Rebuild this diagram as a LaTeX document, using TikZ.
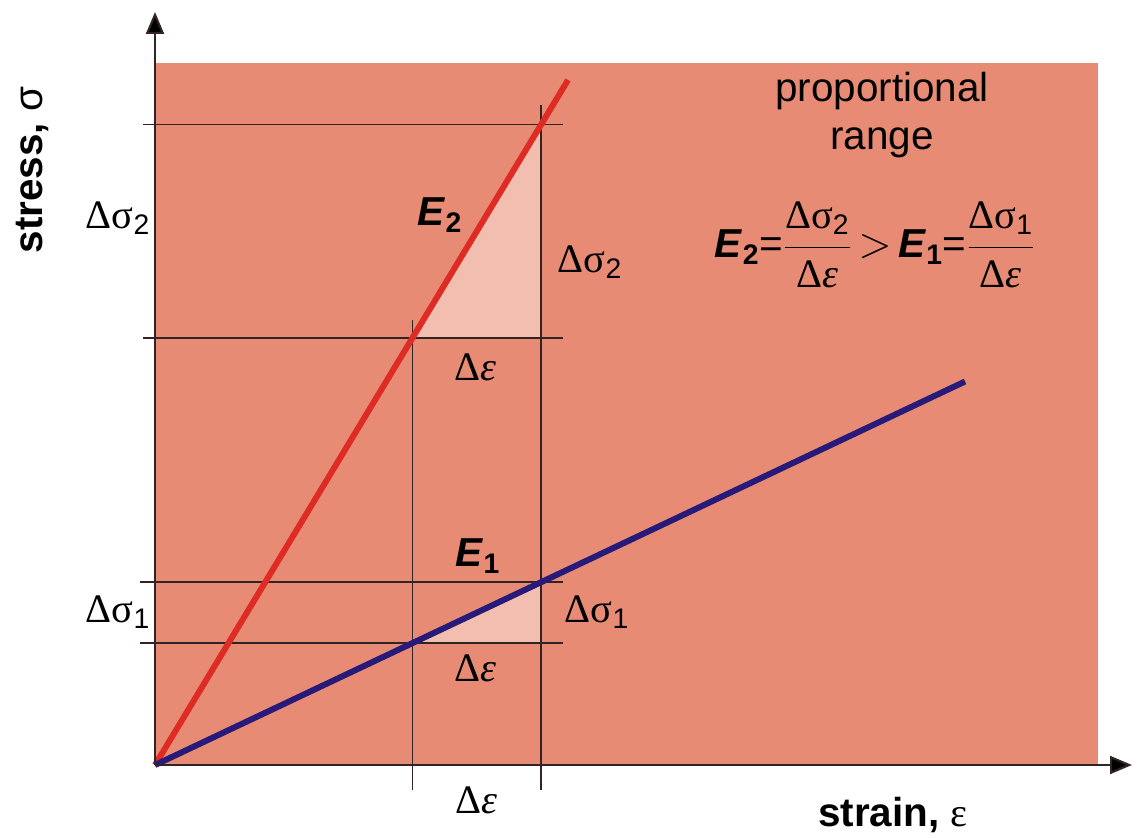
\documentclass[tikz,border=0pt]{standalone}
\usepackage{fontspec}
\setmainfont{Liberation Sans}
\newfontfamily\greekserif{Liberation Serif}
\usetikzlibrary{arrows.meta}
\definecolor{rangefill}{RGB}{231,139,117}
\definecolor{wedgefill}{RGB}{242,190,176}
\definecolor{steelred}{RGB}{222,44,36}
\definecolor{alloyblue}{RGB}{40,26,120}
\definecolor{guidegray}{RGB}{50,36,36}
\newcommand{\dsig}[1]{{\greekserif Δσ}\textsubscript{#1}}
\newcommand{\deps}{{\greekserif Δ\textit{ε}}}
\newcommand{\modE}[1]{\textbf{\textit{E}\textsubscript{#1}}}

\begin{document}
\begin{tikzpicture}[font=\fontsize{23}{27}\selectfont,
    guide/.style={guidegray, line width=0.9pt},
    modline/.style={line width=3.4pt},
    axis/.style={guidegray, line width=1.2pt, -{Triangle[length=0.44cm, width=0.36cm, fill=black]}}]
  \useasboundingbox (-3.1,-1.44) rectangle (19.68,15.3);
  \coordinate (O) at (0,0);
  \coordinate (A1) at (5.15,2.44);
  \coordinate (B1) at (7.72,3.66);
  \coordinate (A2) at (5.15,8.54);
  \coordinate (B2) at (7.72,12.81);
  \coordinate (E1end) at (16.2,7.67);
  \coordinate (E2end) at (8.26,13.7);
  \coordinate (ytip) at (0,15.06);
  \coordinate (xtip) at (19.54,0);

  \fill[rangefill] (O) rectangle (18.86,14.04);
  \fill[wedgefill] (A1) -- (B1) -- (B1 |- A1) -- cycle;
  \fill[wedgefill] (A2) -- (B2) -- (B2 |- A2) -- cycle;

  \draw[guide] (-0.3,2.44) -- (8.16,2.44);
  \draw[guide] (-0.3,3.66) -- (8.16,3.66);
  \draw[guide] (-0.24,8.54) -- (8.16,8.54);
  \draw[guide] (-0.24,12.81) -- (8.16,12.81);
  \draw[guide] (5.15,-0.5) -- (5.15,8.9);
  \draw[guide] (7.72,-0.5) -- (7.72,13.2);

  \draw[modline, steelred] (O) -- (E2end);
  \draw[modline, alloyblue] (O) -- (E1end);
  \draw[axis] (O) -- (ytip);
  \draw[axis] (O) -- (xtip);

  \node (dsig2l) at (-0.74,10.94) {\dsig{2}};
  \node (dsig2r) at (8.7,10.06) {\dsig{2}};
  \node (deps2) at (6.4,7.96) {\deps};
  \node (lblE2) at (5.7,11.0) {\modE{2}};
  \node (lblE1) at (6.46,4.18) {\modE{1}};
  \node (dsig1l) at (-0.74,3.06) {\dsig{1}};
  \node (dsig1r) at (8.84,3.06) {\dsig{1}};
  \node (deps1) at (6.4,1.94) {\deps};
  \node (deps0) at (6.42,-0.7) {\deps};
  \node[align=center] (range) at (14.54,13.0) {proportional\\range};
  \node (law) at (14.4,10.4) {\modE{2}=$\displaystyle\frac{\mbox{\dsig{2}}}{\mbox{\deps}}$\,$>$\,\modE{1}=$\displaystyle\frac{\mbox{\dsig{1}}}{\mbox{\deps}}$};
  \node[rotate=90] (ylabel) at (-2.46,11.9) {\textbf{stress,} σ};
  \node (xlabel) at (14.76,-1.0) {\textbf{strain,} {\greekserif ε}};
\end{tikzpicture}
\end{document}
